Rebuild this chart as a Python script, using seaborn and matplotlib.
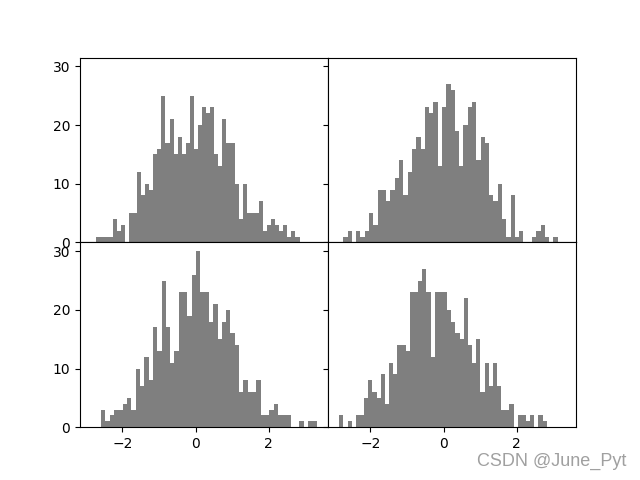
import numpy as np
import pandas as pd
import matplotlib
matplotlib.use("Agg")
import matplotlib.pyplot as plt
import seaborn as sns

# Bin counts (50 bins per panel)
counts_tl = [1, 1, 1, 1, 4, 2, 3, 0, 5, 5, 12, 8, 10, 9, 15, 16, 25, 17, 21, 15,
             18, 15, 17, 25, 16, 20, 23, 22, 23, 15, 13, 21, 17, 17, 10, 4, 10, 5, 5, 5,
             7, 2, 3, 4, 3, 2, 3, 1, 2, 1]
counts_tr = [1, 2, 0, 2, 1, 2, 5, 3, 9, 9, 7, 9, 11, 14, 8, 12, 16, 18, 16, 23,
             22, 24, 13, 23, 27, 26, 19, 13, 20, 23, 24, 14, 18, 17, 8, 7, 10, 4, 1, 8,
             1, 2, 0, 0, 1, 2, 3, 1, 0, 1]
counts_bl = [3, 1, 2, 3, 3, 4, 5, 3, 10, 7, 12, 8, 17, 13, 25, 17, 11, 13, 23, 23,
             19, 26, 30, 23, 23, 18, 21, 15, 18, 20, 16, 14, 6, 8, 6, 6, 8, 2, 2, 3,
             4, 2, 2, 2, 0, 0, 1, 0, 1, 1]
counts_br = [2, 0, 1, 0, 2, 2, 5, 8, 6, 5, 9, 4, 11, 9, 14, 14, 13, 23, 23, 25,
             27, 23, 12, 23, 23, 23, 20, 18, 16, 15, 22, 14, 11, 15, 6, 11, 7, 11, 7, 3,
             3, 4, 0, 2, 2, 1, 2, 0, 2, 1]

# Data range (min, max) of each panel
range_tl = (-2.71, 2.84)
range_tr = (-2.74, 3.12)
range_bl = (-2.58, 3.31)
range_br = (-2.85, 2.82)

panels = [(counts_tl, range_tl), (counts_tr, range_tr),
          (counts_bl, range_bl), (counts_br, range_br)]

fig, axes = plt.subplots(2, 2, sharex=True, sharey=True, figsize=(6.4, 4.8), dpi=100)
for ax, (counts, (lo, hi)) in zip(axes.flat, panels):
    n = len(counts)
    width = (hi - lo) / n
    centers = lo + width * (np.arange(n) + 0.5)
    df = pd.DataFrame({"x": centers, "w": np.asarray(counts, dtype=float)})
    sns.histplot(data=df, x="x", weights="w", bins=n, binrange=(lo, hi), ax=ax,
                 color="k", alpha=0.5, linewidth=0, edgecolor="none")
    ax.set_xlabel("")
    ax.set_ylabel("")

axes[0, 0].set_yticks([0, 10, 20, 30])
plt.subplots_adjust(wspace=0, hspace=0)

fig.text(0.745, 0.029, "CSDN @June_Pyt", color="#a0a0a0", fontsize=13,
         family=["Liberation Sans", "DejaVu Sans"], va="baseline")

fig.savefig("out.png", dpi=100)
